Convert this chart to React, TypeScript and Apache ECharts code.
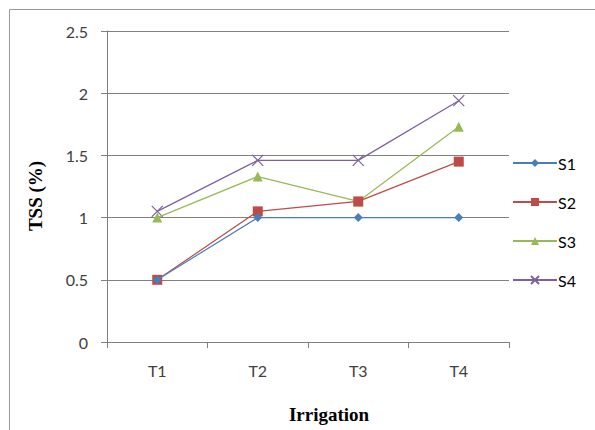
import React, { useEffect, useRef } from "react";
import * as echarts from "echarts";

const categories = ["T1", "T2", "T3", "T4"];
const seriesNames = ["S1", "S2", "S3", "S4"];
const s1 = [0.5, 1.0, 1.0, 1.0];
const s2 = [0.5, 1.05, 1.13, 1.45];
const s3 = [1.0, 1.33, 1.13, 1.73];
const s4 = [1.05, 1.46, 1.46, 1.94];
const yTicks = { min: 0, max: 2.5, interval: 0.5 };

const colors = ["#4A7EBB", "#BE4B48", "#98B954", "#7D60A0"];
const symbols = ["diamond", "rect", "triangle", "path://M0,0L10,10M10,0L0,10"];
const symbolSizes = [9, 10, 10, 11];

export default function App() {
  const ref = useRef<HTMLDivElement>(null);
  useEffect(() => {
    if (!ref.current) return;
    const chart = echarts.init(ref.current, undefined, { renderer: "svg" });
    const data = [s1, s2, s3, s4];
    const labelFont = { fontFamily: "Lato", fontSize: 16, color: "#404040" };
    chart.setOption({
      animation: false,
      backgroundColor: "#ffffff",
      grid: { left: 107, top: 31, right: 86, bottom: 88, containLabel: false },
      xAxis: {
        type: "category",
        data: categories,
        boundaryGap: true,
        axisLine: { show: true, lineStyle: { color: "#808080", width: 1 } },
        axisTick: { show: true, length: 6, alignWithLabel: false, lineStyle: { color: "#808080" } },
        axisLabel: { ...labelFont, margin: 20 },
        splitLine: { show: false },
      },
      yAxis: {
        type: "value",
        min: yTicks.min,
        max: yTicks.max,
        interval: yTicks.interval,
        axisLine: { show: true, lineStyle: { color: "#808080", width: 1 } },
        axisTick: { show: true, length: 6, lineStyle: { color: "#808080" } },
        axisLabel: { ...labelFont, margin: 19 },
        splitLine: { show: true, lineStyle: { color: "#808080", width: 1 } },
      },
      legend: {
        orient: "vertical",
        left: 507,
        top: 150,
        itemWidth: 44,
        itemHeight: 10,
        itemGap: 23,
        data: seriesNames,
        textStyle: { fontFamily: "Lato", fontSize: 16, color: "#000000", padding: [0, 0, 0, -4] },
      },
      series: seriesNames.map((name, i) => ({
        name,
        type: "line",
        data: data[i],
        symbol: symbols[i],
        symbolSize: symbolSizes[i],
        showSymbol: true,
        lineStyle: { color: colors[i], width: 1.2 },
        itemStyle:
          i === 3
            ? { color: colors[i], borderColor: colors[i], borderWidth: 1.2 }
            : { color: colors[i], borderWidth: 0 },
        z: 10 - i,
      })),
      graphic: [
        {
          type: "rect",
          shape: { x: 9.5, y: 9.5, width: 620, height: 460 },
          style: { fill: "none", stroke: "#999999", lineWidth: 1 },
          silent: true,
        },
        {
          type: "text",
          x: 35,
          y: 196,
          rotation: Math.PI / 2,
          style: {
            text: "TSS (%)",
            font: "bold 19px 'Liberation Serif'",
            fill: "#000000",
            align: "center",
            verticalAlign: "middle",
          },
        },
        {
          type: "text",
          x: 329,
          y: 414,
          style: {
            text: "Irrigation",
            font: "bold 19px 'Liberation Serif'",
            fill: "#000000",
            align: "center",
            verticalAlign: "middle",
          },
        },
      ],
    });
    return () => chart.dispose();
  }, []);
  return (
    <div
      ref={ref}
      style={{ position: "fixed", left: 0, top: 0, width: 595, height: 430 }}
    />
  );
}
